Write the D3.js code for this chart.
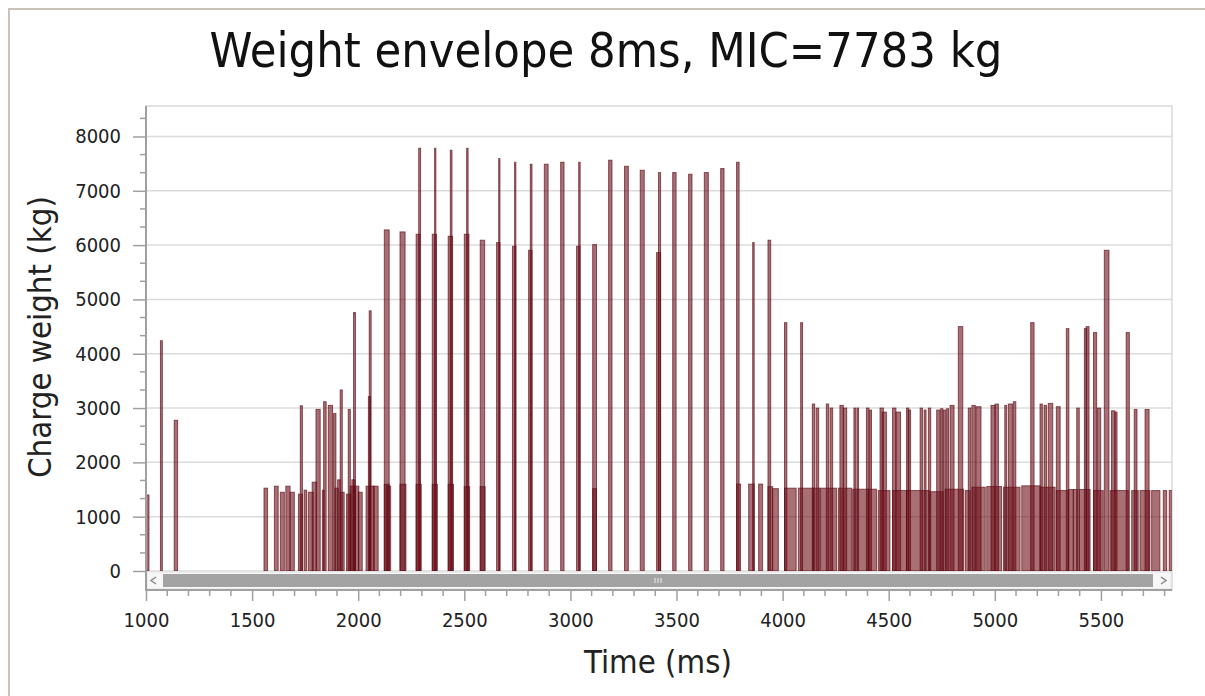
<!DOCTYPE html>
<html><head><meta charset="utf-8">
<script src="https://cdn.jsdelivr.net/npm/d3@7"></script>
<style>body{margin:0;background:#fff;}svg{display:block;}</style>
</head><body>
<svg id="chart" width="1205" height="696"></svg>
<script>
// Envelope intervals: start (ms), end (ms), max charge weight in the window (kg)
const barStart = [
  1000,1068,1133,
  1556,1605,1633,1659,1679,1718,1727,1745,1765,1783,1801,1831,1837,1859,1884,1890,1903,1915,1915,1945,1953,1962,1970,1978,1985,2001,2037,2048,2052,2056,2071,
  2123,2123,2135,2197,2197,2273,2285,2273,2349,2360,2349,2424,2434,2424,2500,2511,2500,2575,2575,
  2652,2662,2727,2737,2803,2811,2877,2954,3029,3039,3105,3105,3180,3255,3329,3406,3415,3482,3557,3631,3708,
  3783,3783,3840,3859,3887,3931,3931,3953,
  4009,4009,4074,4085,4140,4158,4144,4179,4206,4224,4263,4270,4286,4330,4336,4352,4395,4410,4404,4459,4469,4451,4518,4534,4518,4584,4592,4584,
  4648,4667,4687,4695,4726,4745,4757,4773,4789,4766,4828,4860,4875,4892,4892,4911,4962,4982,5001,5041,5047,5064,5087,
  5127,5169,5213,5213,5232,5252,5290,5290,5337,5347,5370,5386,5398,5422,5430,5465,5483,5465,5516,5550,5566,5543,5619,5645,5657,5684,5708,5739,5794,5822
];
const barEnd = [
  1014,1077,1149,
  1573,1623,1652,1679,1699,1737,1737,1757,1788,1804,1821,1840,1849,1879,1895,1906,1915,1925,1934,1966,1963,1984,1985,1987,2003,2019,2056,2058,2061,2076,2094,
  2146,2146,2153,2221,2225,2291,2294,2297,2369,2366,2373,2445,2442,2449,2522,2518,2525,2596,2598,
  2668,2668,2743,2743,2819,2819,2895,2970,3045,3046,3123,3123,3196,3273,3348,3425,3425,3498,3573,3650,3724,
  3795,3802,3866,3866,3906,3944,3953,3980,
  4020,4064,4144,4094,4151,4170,4176,4255,4217,4236,4325,4286,4302,4404,4346,4358,4407,4419,4443,4475,4489,4506,4534,4556,4584,4595,4603,4692,
  4659,4676,4698,4757,4742,4755,4769,4782,4808,4852,4849,4884,4887,4955,4908,4935,5032,5001,5017,5119,5056,5083,5099,
  5215,5185,5284,5224,5244,5273,5308,5347,5349,5370,5389,5398,5449,5433,5444,5480,5499,5511,5538,5566,5576,5629,5634,5676,5670,5731,5727,5778,5810,5840
];
const barKg = [
  1400,4240,2775,
  1525,1562,1450,1562,1450,1414,3043,1488,1450,1636,2975,1488,3117,3049,2901,1525,1679,3333,1450,1414,2975,1562,1679,4758,1562,1450,1562,3210,4790,1562,1562,
  6280,1596,1562,6243,1596,6200,7783,1596,6200,7783,1596,6163,7747,1596,6200,7783,1553,6090,1553,
  6047,7594,5979,7526,5905,7489,7489,7526,5979,7526,6010,1516,7563,7452,7379,5862,7336,7336,7305,7336,7410,
  7526,1600,1600,6047,1600,6090,1553,1516,
  4573,1525,1525,4573,3074,3000,1525,1525,3074,3000,1525,3049,3000,1506,3000,3000,3000,2963,1506,3000,2926,1481,3000,2926,1481,3000,2963,1481,
  3000,2963,3000,1460,2963,2988,2963,2988,3049,1506,4500,1481,3000,1543,3049,3025,1555,3049,3074,1543,3049,3074,3117,
  1568,4573,1543,3074,3049,3086,3025,1481,4463,1500,1500,3000,1500,4463,4500,4390,3000,1481,5905,2950,2926,1481,4390,1481,2975,1481,2975,1481,1481,1481
];

const yTicks = [0,1000,2000,3000,4000,5000,6000,7000,8000];
const xTicks = [1000,1500,2000,2500,3000,3500,4000,4500,5000,5500];
const mic = 7783;
const timeWindow = [1000, 5835];
const titleText = "Weight envelope 8ms, MIC=" + mic + " kg";
const xTitle = "Time (ms)";
const yTitle = "Charge weight (kg)";

const W = 1205, H = 696;
const plot = {left: 146, right: 1172, top: 106, bottom: 571};
const axisY = 590;
const font = "'DejaVu Sans Condensed', 'DejaVu Sans', sans-serif";

const svg = d3.select("#chart");
const x = d3.scaleLinear().domain(timeWindow).range([plot.left, plot.right]);
const y = d3.scaleLinear().domain([0, mic * 1.1]).range([plot.bottom, plot.top]);

// outer frame
svg.append("path").attr("d", `M9,${H}V9H${W}`)
  .attr("fill", "none").attr("stroke", "#cbc3b9").attr("stroke-width", 2);

// plot box and grid
svg.append("rect").attr("x", plot.left).attr("y", plot.top)
  .attr("width", plot.right - plot.left).attr("height", axisY - plot.top)
  .attr("fill", "#fff").attr("stroke", "#d9d9d9").attr("stroke-width", 1.5);
svg.append("g").selectAll("line").data(yTicks).join("line")
  .attr("x1", plot.left).attr("x2", plot.right)
  .attr("y1", d => y(d)).attr("y2", d => y(d))
  .attr("stroke", "#dcdcdc").attr("stroke-width", 1.5);

// bars
svg.append("clipPath").attr("id", "clip").append("rect")
  .attr("x", plot.left).attr("y", plot.top)
  .attr("width", plot.right - plot.left).attr("height", plot.bottom - plot.top);
svg.append("g").attr("clip-path", "url(#clip)")
  .selectAll("rect").data(d3.range(barKg.length)).join("rect")
  .attr("x", i => x(barStart[i]))
  .attr("width", i => Math.max(1, x(barEnd[i]) - x(barStart[i])))
  .attr("y", i => y(barKg[i]))
  .attr("height", i => y(0) - y(barKg[i]))
  .attr("fill", "rgba(110,15,25,0.6)")
  .attr("stroke", "rgba(90,10,20,0.65)")
  .attr("stroke-width", 1);

// scrollbar under the plot
const sb = svg.append("g");
sb.append("rect").attr("x", plot.left + 1).attr("y", plot.bottom + 1)
  .attr("width", plot.right - plot.left - 2).attr("height", axisY - plot.bottom - 2)
  .attr("fill", "#f7f7f7").attr("stroke", "#e2e2e2");
sb.append("rect").attr("x", 163).attr("y", 574)
  .attr("width", 1153 - 163).attr("height", 13).attr("fill", "#a3a3a3");
sb.append("path").attr("d", "M156,577L151,580.5L156,584").attr("fill", "none")
  .attr("stroke", "#8a8a8a").attr("stroke-width", 1.5);
sb.append("path").attr("d", "M1161,577L1166,580.5L1161,584").attr("fill", "none")
  .attr("stroke", "#8a8a8a").attr("stroke-width", 1.5);
sb.selectAll("line.grip").data([-3, 0, 3]).join("line").attr("class", "grip")
  .attr("x1", d => 658 + d).attr("x2", d => 658 + d).attr("y1", 578).attr("y2", 583)
  .attr("stroke", "#f0f0f0").attr("stroke-width", 1);

// y axis
const yMinor = d3.range(1, Math.floor(mic * 1.1 * 3 / 1000) + 1).map(k => k * 1000 / 3).filter((v, k) => (k + 1) % 3 !== 0);
const yAx = svg.append("g").attr("transform", `translate(${plot.left},0)`);
yAx.append("line").attr("y1", plot.top).attr("y2", axisY + 1).attr("stroke", "#a0a0a0").attr("stroke-width", 2);
yAx.selectAll("line.minor").data(yMinor).join("line").attr("class", "minor")
  .attr("x1", -6).attr("x2", 0).attr("y1", d => y(d)).attr("y2", d => y(d))
  .attr("stroke", "#a0a0a0").attr("stroke-width", 1.5);
const yAxis = d3.axisLeft(y).tickValues(yTicks).tickSize(13).tickPadding(12).tickFormat(d3.format("d"));
const yg = yAx.append("g").call(yAxis);
yg.select(".domain").remove();
yg.selectAll(".tick line").attr("stroke", "#a0a0a0").attr("stroke-width", 1.5);
yg.selectAll(".tick text").attr("font-family", font).attr("font-size", 20).attr("fill", "#222");

// x axis
const xMinor = d3.range(timeWindow[0], timeWindow[1], 100).filter(v => v % 500 !== 0);
const xAx = svg.append("g").attr("transform", `translate(0,${axisY})`);
xAx.append("line").attr("x1", plot.left).attr("x2", plot.right).attr("stroke", "#a0a0a0").attr("stroke-width", 2);
xAx.selectAll("line.minor").data(xMinor).join("line").attr("class", "minor")
  .attr("x1", d => x(d)).attr("x2", d => x(d)).attr("y1", 0).attr("y2", 6)
  .attr("stroke", "#a0a0a0").attr("stroke-width", 1.5);
const xAxis = d3.axisBottom(x).tickValues(xTicks).tickSize(11).tickPadding(12).tickFormat(d3.format("d"));
const xg = xAx.append("g").call(xAxis);
xg.select(".domain").remove();
xg.selectAll(".tick line").attr("stroke", "#a0a0a0").attr("stroke-width", 1.5);
xg.selectAll(".tick text").attr("font-family", font).attr("font-size", 20).attr("fill", "#222");

// titles
function fitWidth(sel, target) {
  const w = sel.node().getComputedTextLength();
  const fs = parseFloat(sel.attr("font-size"));
  sel.attr("font-size", fs * target / w);
}
const t = svg.append("text").text(titleText)
  .attr("x", 606).attr("y", 67).attr("text-anchor", "middle")
  .attr("font-family", font).attr("font-size", 40).attr("fill", "#111");
fitWidth(t, 793);
const xt = svg.append("text").text(xTitle)
  .attr("x", 658).attr("y", 673).attr("text-anchor", "middle")
  .attr("font-family", font).attr("font-size", 26).attr("fill", "#222");
fitWidth(xt, 148);
const yt = svg.append("text").text(yTitle)
  .attr("transform", "translate(51,337) rotate(-90)").attr("text-anchor", "middle")
  .attr("font-family", font).attr("font-size", 26).attr("fill", "#222");
fitWidth(yt, 282);
</script>
</body></html>
